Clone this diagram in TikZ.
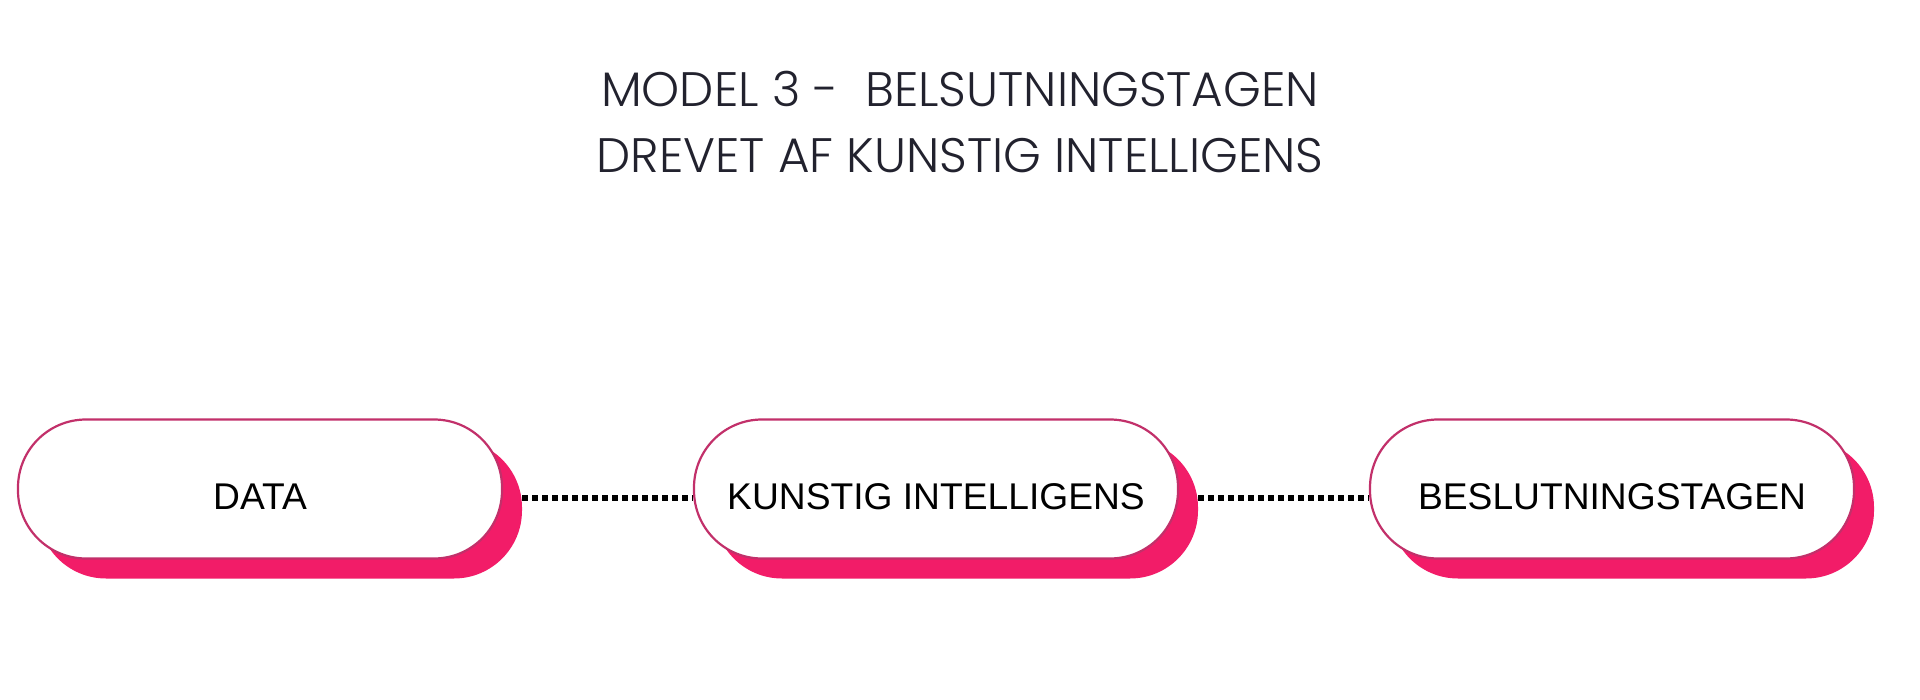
\documentclass[tikz,border=0pt]{standalone}
\usepackage{fontspec}
\setmainfont{Liberation Sans}
\newfontfamily\titlefont{Poppins}[UprightFont=* Light]
\definecolor{pinkshadow}{HTML}{F21C68}
\definecolor{pillline}{HTML}{C2306A}
\definecolor{titlecol}{HTML}{22222E}
\begin{document}
\begin{tikzpicture}[x=0.5pt,y=-0.5pt,
  pill/.style={draw=pillline, line width=1.1pt, fill=white, rounded corners=34pt,
    minimum width=242pt, minimum height=69.5pt, inner sep=0pt,
    text height=20pt, text depth=0pt,
    font=\fontsize{18.6}{22}\selectfont, text=black},
  pillshadow/.style={fill=pinkshadow, rounded corners=34pt,
    minimum width=242pt, minimum height=69.5pt, inner sep=0pt},
  dotline/.style={draw=black, line width=2.6pt, dash pattern=on 2.8pt off 2.2pt},
  titletext/.style={font=\titlefont\fontsize{24.2}{28}\selectfont, text=titlecol, anchor=base, inner sep=0pt}
]
\useasboundingbox (0,0) rectangle (1920,700);
\fill[white] (0,0) rectangle (1920,700);

\node[titletext] (t1) at (960,106.5) {MODEL 3 -\ \ BELSUTNINGSTAGEN};
\node[titletext] (t2) at (960,172.6) {DREVET AF KUNSTIG INTELLIGENS};

\node[pillshadow] (s1) at (280,509) {};
\node[pillshadow] (s2) at (956,509) {};
\node[pillshadow] (s3) at (1632,509) {};

\node[pill] (b1) at (260,489) {DATA};
\node[pill] (b2) at (936,489) {KUNSTIG INTELLIGENS};
\node[pill] (b3) at (1612,489) {BESLUTNINGSTAGEN};

\draw[dotline] ([yshift=5.5pt]s1.east) -- ([yshift=-4.5pt]b2.west);
\draw[dotline] ([yshift=5.5pt]s2.east) -- ([yshift=-4.5pt]b3.west);
\end{tikzpicture}
\end{document}
